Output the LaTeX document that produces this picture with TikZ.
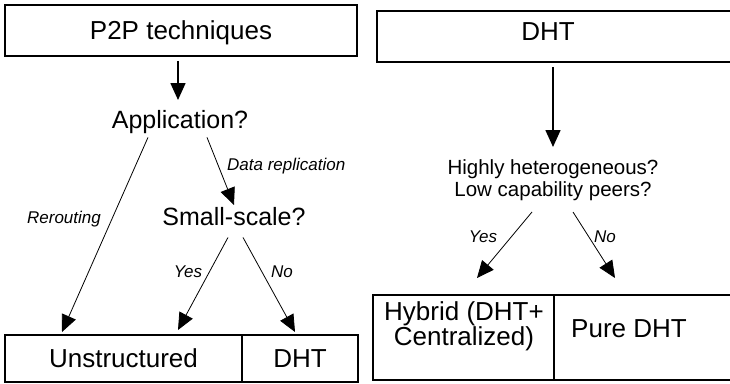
\documentclass[tikz,border=0pt]{standalone}
\usepackage{fontspec}
\setmainfont{Liberation Sans}
\usetikzlibrary{arrows.meta, positioning, calc}

\tikzset{
  box/.style={draw, line width=1.6pt, inner sep=0pt, text depth=0pt, font=\fontsize{26}{28}\selectfont},
  frame/.style={line width=1.6pt},
  ask/.style={align=center, inner sep=0pt, font=\fontsize{25}{27}\selectfont},
  askbig/.style={align=center, inner sep=0pt, font=\fontsize{20.5}{22.5}\selectfont},
  lbl/.style={inner sep=0pt, font=\fontsize{17}{20}\selectfont\itshape},
  arr/.style={-{Triangle[length=17pt,width=15pt]}, line width=0.8pt},
  thickarr/.style={arr, line width=1.6pt},
}

\begin{document}
\begin{tikzpicture}[x=1pt, y=-1pt]
\useasboundingbox (0,0) rectangle (730,383);

% left tree: P2P techniques
\node[box, minimum width=352pt, minimum height=51pt] (p2p) at (181,30.5) {P2P techniques};
\node[ask, anchor=base] (app) at (180,128) {Application?};
\node[ask, anchor=base] (small) at (234,225) {Small-scale?};
\node[box, minimum width=237pt, minimum height=47pt] (unstr) at (123.5,358.5) {Unstructured};
\node[box, minimum width=116pt, minimum height=47pt] (dhtl) at (300,358.5) {DHT};

\coordinate (p2p-s) at ($(p2p.south)+(-3,4)$);
\coordinate (app-t) at (178,100);
\coordinate (app-l) at ($(app.south)+(-32,4)$);
\coordinate (app-r) at ($(app.south)+(27,4)$);
\coordinate (unstr-t) at (62,332);
\coordinate (small-t) at (234,205);
\coordinate (small-l) at ($(small.south)+(-6,12)$);
\coordinate (small-r) at ($(small.south)+(9,12)$);
\coordinate (yes-t) at (178,330);
\coordinate (no-t) at (295,332);

\draw[thickarr] (p2p-s) -- (app-t);
\draw[arr] (app-l) -- (unstr-t);
\draw[arr] (app-r) -- (small-t);
\draw[arr] (small-l) -- (yes-t);
\draw[arr] (small-r) -- (no-t);

\node[lbl, anchor=base] (rer) at (64,223) {Rerouting};
\node[lbl, anchor=base west] (repl) at (227,170) {Data replication};
\node[lbl, anchor=base] (yesl) at (188,277) {Yes};
\node[lbl, anchor=base] (nol) at (282,277) {No};

% right tree: DHT (boxes run off the page)
\draw[frame] (377,11) rectangle (745,62);
\node[ask, anchor=base, font=\fontsize{26}{28}\selectfont] (dht) at (548,40) {DHT};
\node[askbig] (hetero) at (553,180) {Highly heterogeneous?\\Low capability peers?};
\draw[frame] (373,295) rectangle (745,380);
\draw[frame] (554,295) -- (554,380);
\node[ask, font=\fontsize{26}{25}\selectfont] (hybrid) at (464,326) {Hybrid (DHT+\\Centralized)};
\node[ask, anchor=base, font=\fontsize{26}{28}\selectfont] (pure) at (629,337) {Pure DHT};

\coordinate (dht-s) at (553,67);
\coordinate (hetero-t) at (553,147);
\coordinate (hetero-l) at (532,212);
\coordinate (hetero-r) at (573,212);
\coordinate (hybrid-t) at (477,278);
\coordinate (pure-t) at (615,278);

\draw[thickarr] (dht-s) -- (hetero-t);
\draw[arr] (hetero-l) -- (hybrid-t);
\draw[arr] (hetero-r) -- (pure-t);

\node[lbl, anchor=base] (yesr) at (483,242) {Yes};
\node[lbl, anchor=base] (nor) at (605,242) {No};
\end{tikzpicture}
\end{document}
